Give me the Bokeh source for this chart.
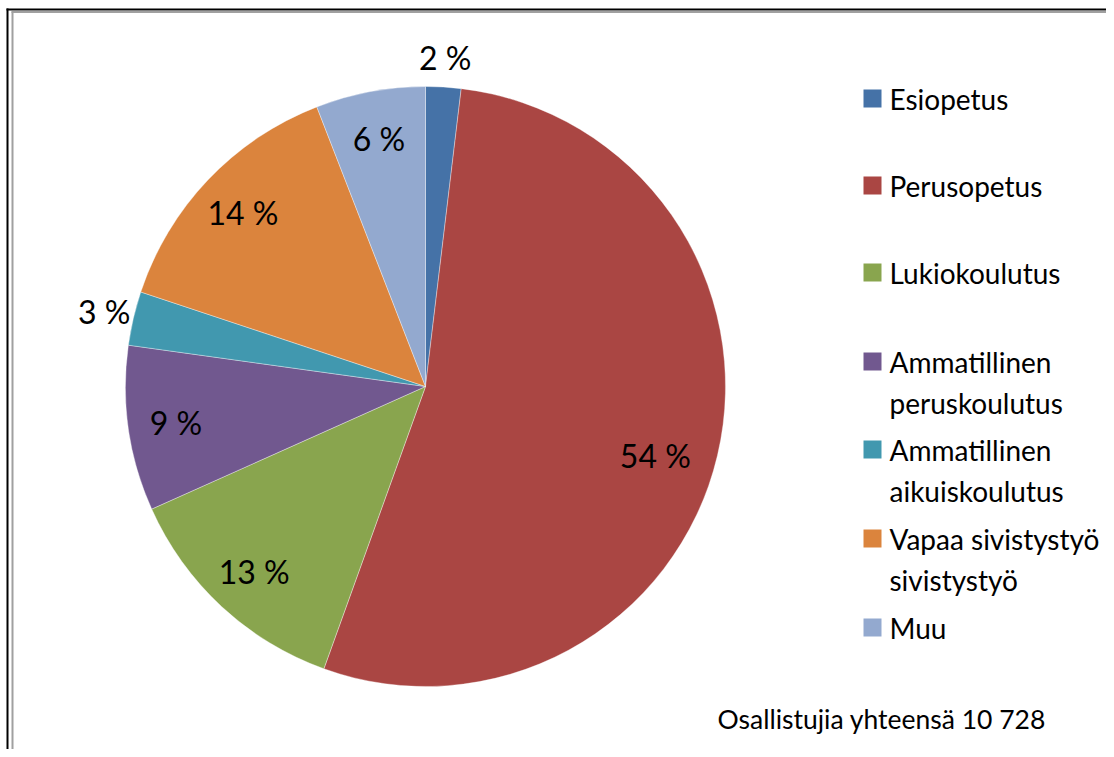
import math
from bokeh.plotting import figure
from bokeh.models import Range1d, ColumnDataSource
from bokeh.core.properties import value
from bokeh.embed import file_html
from bokeh.resources import INLINE

# ---- data ----
categories = ["Esiopetus", "Perusopetus", "Lukiokoulutus", "Ammatillinen peruskoulutus",
              "Ammatillinen aikuiskoulutus", "Vapaa sivistystyö sivistystyö", "Muu"]
legend_lines = [["Esiopetus"], ["Perusopetus"], ["Lukiokoulutus"],
                ["Ammatillinen", "peruskoulutus"], ["Ammatillinen", "aikuiskoulutus"],
                ["Vapaa sivistystyö", "sivistystyö"], ["Muu"]]
shares = [1.9, 53.6, 12.8, 8.9, 2.9, 14.0, 5.9]
colors = ["#4572A7", "#AA4643", "#89A54E", "#71588F", "#4198AF", "#DB843D", "#93A9CF"]
note = "Osallistujia yhteensä 10 728"

FONT = "Lato"
W, H = 1106, 749
p = figure(width=W, height=H, x_range=Range1d(0, W), y_range=Range1d(0, H),
           output_backend="svg", toolbar_location=None, min_border=0)
p.axis.visible = False
p.grid.visible = False
p.outline_line_color = None
p.background_fill_color = "white"

# frame (double border)
p.segment(x0=[7, 12, 6, 11], y0=[-10, -10, H - 9, H - 11.5],
          x1=[7, 12, W + 10, W + 10], y1=[H - 8, H - 11, H - 9, H - 11.5],
          line_color=["black", "#A0A0A0", "black", "#A0A0A0"], line_width=2)

# pie
cx, cy, R = 425, H - 386, 300
total = sum(shares)
starts, ends, mids = [], [], []
acc = 0.0
for s in shares:
    a0 = acc / total * 2 * math.pi
    acc += s
    a1 = acc / total * 2 * math.pi
    starts.append(math.pi / 2 - a0)
    ends.append(math.pi / 2 - a1)
    mids.append((a0 + a1) / 2)

src = ColumnDataSource(dict(start=starts, end=ends, color=colors))
p.wedge(x=cx, y=cy, radius=R, start_angle="start", end_angle="end", direction="clock",
        fill_color="color", line_color="white", line_width=0.6, line_alpha=0.6, source=src)

# data labels
lx, ly, lt = [], [], []
for s, m in zip(shares, mids):
    rr = R * (1.1 if s < 4 else (0.8 if s > 50 else 0.84))
    ang = m + (0.06 if s > 50 else 0.0)
    lx.append(cx + rr * math.sin(ang))
    ly.append(cy + rr * math.cos(ang))
    lt.append(f"{round(s)} %")
p.text(x=lx, y=ly, text=lt, text_font=value(FONT), text_font_size="32px",
       text_align="center", text_baseline="middle", text_color="black")

# legend
item_y = [H - 98, H - 185, H - 272, H - 361, H - 449, H - 538, H - 627]
line_gap = 41
sq_x, tx = 872, 889
p.rect(x=[sq_x] * len(item_y), y=item_y, width=18, height=18, fill_color=colors, line_color=None)
txs, tys, tts = [], [], []
for y0, lines in zip(item_y, legend_lines):
    for k, t in enumerate(lines):
        txs.append(tx)
        tys.append(y0 - k * line_gap)
        tts.append(t)
p.text(x=txs, y=tys, text=tts, text_font=value(FONT), text_font_size="28px",
       text_align="left", text_baseline="middle", text_color="black")

# note
p.text(x=[717], y=[H - 718], text=[note], text_font=value(FONT), text_font_size="26.5px",
       text_align="left", text_baseline="middle", text_color="black")

open("out.html", "w").write(file_html(p, INLINE))
